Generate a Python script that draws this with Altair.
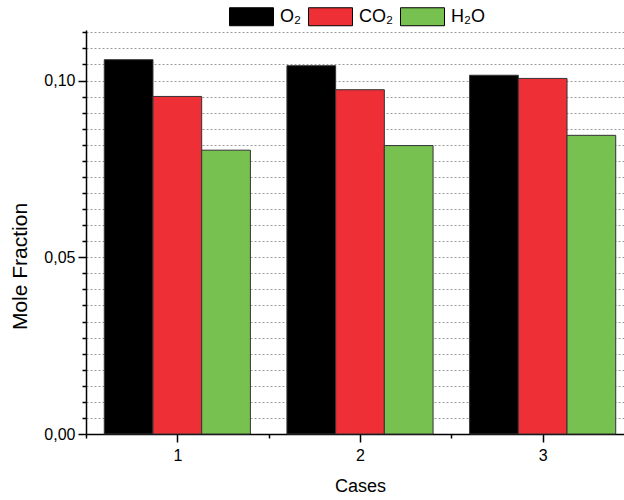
import altair as alt
import pandas as pd

cases = [1, 2, 3]
series = ["O₂", "CO₂", "H₂O"]
o2 = [0.1059, 0.1042, 0.1015]
co2 = [0.0955, 0.0974, 0.1006]
h2o = [0.0803, 0.0816, 0.0845]
colors = ["#000000", "#ee2f36", "#77c150"]

y_ticks = [round(i * 0.05 / 11, 6) for i in range(26)]
x_ticks = [0.5, 1, 1.5, 2, 2.5, 3, 3.5]

rows = []
for s, vals in zip(series, [o2, co2, h2o]):
    for c, v in zip(cases, vals):
        rows.append({"case": c, "series": s, "value": v})
df = pd.DataFrame(rows)
cases_df = pd.DataFrame({"case": cases})

FONT = "Liberation Sans"
major_y = "abs(datum.value*20 - round(datum.value*20)) < 0.001"
major_x = "datum.value % 1 == 0"

W_RANGE = 548
Y_MAX = 0.1143

axis_layer = alt.Chart(cases_df).mark_tick(opacity=0).encode(
    x=alt.X("case:Q",
            scale=alt.Scale(domain=[0.5, 3.5], range=[0, W_RANGE], nice=False, zero=False),
            axis=alt.Axis(values=x_ticks, labelExpr=f"{major_x} ? datum.value : ''",
                          tickSize={"condition": {"test": major_x, "value": 8}, "value": 4},
                          grid=False, domainColor="black", domainWidth=1.5,
                          tickColor="black", tickWidth=1.5, labelFont=FONT,
                          labelFontSize=16, labelColor="black", labelPadding=5,
                          title="Cases", titleFont=FONT, titleFontSize=18,
                          titleFontWeight="normal", titleColor="black", titlePadding=14)),
    y=alt.value(0),
)

bars = alt.Chart(df).mark_bar(stroke="#333333", strokeWidth=1).encode(
    x=alt.X("case:N", scale=alt.Scale(range=[0, W_RANGE], paddingInner=0.2, paddingOuter=0.1),
            axis=None),
    xOffset=alt.XOffset("series:N", sort=series, scale=alt.Scale(paddingInner=0, paddingOuter=0)),
    y=alt.Y("value:Q", scale=alt.Scale(domain=[0, Y_MAX], nice=False),
            axis=alt.Axis(values=y_ticks,
                          labelExpr=f"{major_y} ? replace(format(datum.value, '.2f'), '.', ',') : ''",
                          tickSize={"condition": {"test": major_y, "value": 8}, "value": 4},
                          grid=True, gridDash=[2, 2], gridColor="#9a9a9a", gridWidth=1,
                          domainColor="black", domainWidth=1.5, tickColor="black",
                          tickWidth=1.5, labelFont=FONT, labelFontSize=16,
                          labelColor="black", labelPadding=3,
                          title="Mole Fraction", titleFont=FONT, titleFontSize=21,
                          titleFontWeight="normal", titleColor="black", titlePadding=13,
                          titleY=236)),
    color=alt.Color("series:N", sort=series,
                    scale=alt.Scale(domain=series, range=colors),
                    legend=alt.Legend(orient="none", legendX=143, legendY=-36,
                                      direction="horizontal", title=None,
                                      symbolType="M-1,-0.409H1V0.409H-1Z",
                                      symbolSize=1936, symbolStrokeColor="black",
                                      symbolStrokeWidth=1, symbolOpacity=1,
                                      labelFont=FONT, labelFontSize=18,
                                      labelColor="black", labelOffset=6,
                                      columnPadding=5, padding=0)),
)

chart = alt.layer(axis_layer, bars).resolve_scale(x="independent").properties(
    width=538, height=404,
    autosize=alt.AutoSizeParams(type="none"),
    padding={"left": 86, "top": 30, "right": 0, "bottom": 66},
).configure_view(stroke=None)

chart.save("out.html", embed_options={"renderer": "svg", "actions": False})
